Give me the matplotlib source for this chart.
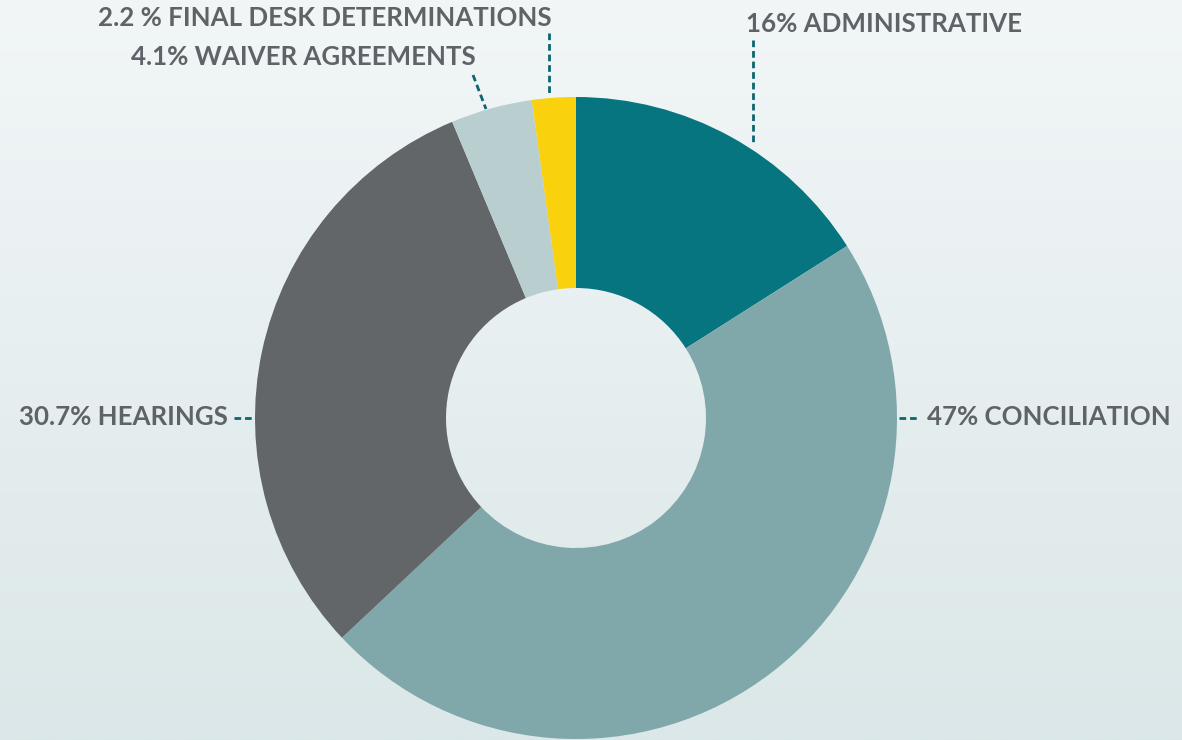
import matplotlib
matplotlib.use("Agg")
import matplotlib.pyplot as plt
import numpy as np

labels = ["16% ADMINISTRATIVE", "47% CONCILIATION", "30.7% HEARINGS",
          "4.1% WAIVER AGREEMENTS", "2.2 % FINAL DESK DETERMINATIONS"]
shares = [16, 47, 30.7, 4.1, 2.2]
colors = ["#077580", "#80a8ab", "#636669", "#b8cecf", "#f9d10d"]

W, H = 1182, 740
fig = plt.figure(figsize=(W / 100, H / 100), dpi=100)

# background gradient
bg = fig.add_axes([0, 0, 1, 1], zorder=0)
grad = np.linspace(0, 1, 256).reshape(-1, 1)
top = np.array([0xf2, 0xf6, 0xf7]) / 255
bot = np.array([0xdb, 0xe7, 0xe8]) / 255
img = top + (bot - top) * grad[:, :, None]
bg.imshow(img, aspect="auto", extent=[0, 1, 0, 1])
bg.axis("off")

ax = fig.add_axes([0, 0, 1, 1], zorder=1)
ax.patch.set_alpha(0)

cx, cy = 576, H - 418
R = 321
ax.pie(shares, colors=colors, startangle=90, counterclock=False,
       center=(cx, cy), radius=R, frame=True,
       wedgeprops=dict(width=R - 130, linewidth=0))
ax.set_xlim(0, W)
ax.set_ylim(0, H)
ax.set_aspect("equal")
ax.axis("off")

txt = dict(color="#5e6367", fontsize=18.6, fontweight="bold", family="Lato", va="center")
line = dict(color="#0c6570", lw=2.0, linestyle=(0, (2.4, 1.4)))

# admin
ax.text(746, H - 24, labels[0], ha="left", **txt)
ax.plot([753, 753], [H - 40, H - 144], **line)
# conciliation
ax.text(927, H - 417, labels[1], ha="left", **txt)
ax.plot([899, 919], [H - 418, H - 418], **line)
# hearings
ax.text(228, H - 417, labels[2], ha="right", **txt)
ax.plot([234, 254], [H - 418, H - 418], **line)
# waiver
ax.text(476, H - 57, labels[3], ha="right", **txt)
ax.plot([473, 486], [H - 75, H - 109], **line)
# final desk
ax.text(552, H - 18, labels[4], ha="right", **txt)
ax.plot([549, 549], [H - 33, H - 95], **line)

fig.savefig("out.png", dpi=100)
